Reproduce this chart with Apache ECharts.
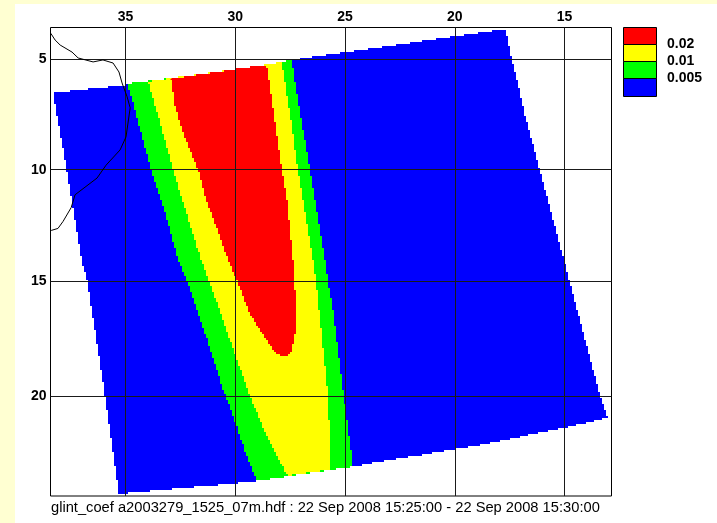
<!DOCTYPE html>
<html><head><meta charset="utf-8">
<style>html,body{margin:0;padding:0;background:#fff}#c{width:717px;height:523px}</style>
<script src="https://cdn.jsdelivr.net/npm/echarts@6/dist/echarts.min.js"></script>
</head><body><div id="c"></div>
<script>
const lonTicks = [35, 30, 25, 20, 15];
const latTicks = [5, 10, 15, 20];
const legendColors = ['#ff0000', '#ffff00', '#00ff00', '#0000ff'];
const legendLabels = ['0.02', '0.01', '0.005'];
const titleText = 'glint_coef a2003279_1525_07m.hdf : 22 Sep 2008 15:25:00 - 22 Sep 2008 15:30:00';

// [lon, lat] outlines
const swath005 = [[38.30,6.52],[35.02,6.16],[32.97,5.86],[30.06,5.45],[28.64,5.25],[27.41,5.02],[22.49,4.30],[17.71,3.61],
  [17.39,5.02],[16.75,7.75],[15.02,14.11],[13.38,20],[13.06,20.94],
  [15.02,21.37],[18.85,22.10],[24.63,23.00],[27.69,23.43],[28.96,23.61],[30.06,23.72],[34.79,24.11],[35.30,24.14],
  [35.93,20],[36.74,15],[37.00,14.02],[37.68,10]];
const band01 = [[34.95,6.11],[34.66,6.98],[34.07,9.20],[33.84,10.02],[33.20,11.93],[32.61,14.02],[32.06,15.35],[31.61,16.67],[31.24,17.68],[30.56,19.74],[30.15,20.73],[29.42,22.75],[29.01,23.61],
  [27.69,23.43],[24.63,23.00],
  [25.05,20],[25.55,16.23],[25.77,15],[25.91,14.02],[26.37,11.36],[26.59,10.02],[27.14,6.84],[27.43,5.02],
  [28.64,5.25],[30.06,5.45],[32.97,5.86]];
const band02 = [[33.97,6.02],[33.56,7.43],[32.84,10.02],[31.57,14.02],[31.20,15],[30.69,16.36],[30.10,17.98],[29.33,20.04],[28.55,21.76],[27.64,23.39],
  [25.65,23.12],
  [25.77,20],[26.32,15],[26.46,14.02],[26.91,11.36],[27.14,10.02],[27.51,7.43],[27.88,5.11],
  [28.64,5.25],[30.06,5.45],[32.97,5.86]];
const band03 = [[32.93,5.89],[32.74,7.16],[32.38,8.34],[31.70,10.02],[31.33,11.36],[30.33,14.02],[29.92,15],[29.33,16.45],[28.55,17.63],[28.19,18.12],[27.82,18.33],[27.57,18.22],
  [27.41,17.98],[27.28,17.24],[27.23,15.92],[27.32,14.91],[27.37,14.02],[27.64,11.36],[27.87,10.02],[28.33,6.84],[28.57,5.25],[30.06,5.45]];
const coast = [[38.41,3.80],[38.21,4.11],[37.98,4.34],[37.44,4.66],[37.16,4.93],[36.48,5.11],[36.03,5.02],[35.57,5.16],[35.30,5.57],[35.16,6.07],[34.93,6.70],[34.79,7.20],[34.98,8.52],[35.25,9.11],[35.89,9.80],[36.30,10.38],[37.30,11.13],[37.48,11.71],[37.85,12.33],[38.08,12.64],[38.39,12.73]];

const RAD = Math.PI / 180;
const merc = lat => Math.log(Math.tan(Math.PI / 4 + lat * RAD / 2)) / RAD;
const unmerc = m => (2 * Math.atan(Math.exp(m * RAD)) - Math.PI / 2) / RAD;

// stair-stepping of the raster edges
const CELL = 2;
function stair(pts) {
  const out = [];
  const n = pts.length;
  for (let i = 0; i < n; i++) {
    const a = pts[i], b = pts[(i + 1) % n];
    const steps = Math.max(2, Math.ceil(Math.hypot(b[0] - a[0], b[1] - a[1])));
    for (let s = 0; s < steps; s++) {
      const x = Math.round((a[0] + (b[0] - a[0]) * s / steps) / CELL) * CELL;
      const y = Math.round((a[1] + (b[1] - a[1]) * s / steps) / CELL) * CELL;
      const l = out[out.length - 1];
      if (!l) out.push([x, y]);
      else if (l[0] !== x || l[1] !== y) {
        if (l[0] !== x && l[1] !== y) out.push([x, l[1]]);
        out.push([x, y]);
      }
    }
  }
  return out;
}
function bandSeries(name, pts, color, z) {
  const data = pts.map(p => [p[0], merc(p[1])]);
  return {
    type: 'custom', name, z, animation: false, silent: true,
    coordinateSystem: 'cartesian2d', clip: false,
    encode: { x: 0, y: 1 }, data,
    renderItem(params, api) {
      if (params.dataIndex !== 0) return null;
      return {
        type: 'polygon',
        shape: { points: stair(data.map(d => api.coord(d))) },
        style: { fill: color, stroke: null }
      };
    }
  };
}

const LX = 623, LW = 33, LY = [27.5, 44.5, 61.5, 78.5, 96.5];
const graphics = [
  { type: 'rect', silent: true, z: -10, shape: { x: 15, y: 4, width: 702, height: 519 }, style: { fill: '#ffffff' } }
];
legendColors.forEach((c, i) => graphics.push({
  type: 'rect', silent: true, z: 10,
  shape: { x: LX + 0.5, y: LY[i], width: LW, height: LY[i + 1] - LY[i] },
  style: { fill: c, stroke: '#000', lineWidth: 1 }
}));
legendLabels.forEach((t, i) => graphics.push({
  type: 'text', silent: true, z: 10, x: 667, y: LY[i + 1],
  style: { text: t, fill: '#000', font: 'bold 14px "Liberation Sans"', verticalAlign: 'middle' }
}));
graphics.push({
  type: 'text', silent: true, z: 10, x: 51, y: 508,
  style: { text: titleText, fill: '#000', font: '14.7px "Liberation Sans"', verticalAlign: 'middle' }
});

const tickFont = { color: '#000', fontFamily: 'Liberation Sans', fontSize: 14, fontWeight: 'bold' };
const gridLine = { show: true, lineStyle: { color: '#1a1a1a', width: 1 } };

const chart = echarts.init(document.getElementById('c'), null, { renderer: 'canvas' });
chart.setOption({
  animation: false,
  backgroundColor: '#ffffd2',
  grid: { left: 50.5, top: 27.5, width: 561, height: 468.5, show: true, borderColor: '#000', borderWidth: 1, backgroundColor: 'transparent' },
  xAxis: {
    type: 'value', position: 'top', inverse: true, min: 12.86, max: 38.42, z: 5,
    axisLine: { show: false }, axisTick: { show: false, customValues: lonTicks },
    axisLabel: Object.assign({ customValues: lonTicks, margin: 3, hideOverlap: false, formatter: v => String(Math.round(v)) }, tickFont),
    splitLine: gridLine
  },
  yAxis: {
    type: 'value', position: 'left', inverse: true, min: 3.54, max: 25.0, z: 5,
    axisLine: { show: false }, axisTick: { show: false, customValues: latTicks.map(merc) },
    axisLabel: Object.assign({ customValues: latTicks.map(merc), margin: 4, formatter: v => String(Math.round(unmerc(v))) }, tickFont),
    splitLine: gridLine
  },
  graphic: graphics,
  series: [
    bandSeries('0.005', swath005, legendColors[3], 1),
    bandSeries('0.01', band01, legendColors[2], 2),
    bandSeries('0.015', band02, legendColors[1], 3),
    bandSeries('0.02', band03, legendColors[0], 4),
    { type: 'line', name: 'coast', z: 6, animation: false, silent: true, showSymbol: false, symbol: 'none', clip: true,
      lineStyle: { color: '#000', width: 1 }, data: coast.map(p => [p[0], merc(p[1])]) }
  ]
});
</script></body></html>
